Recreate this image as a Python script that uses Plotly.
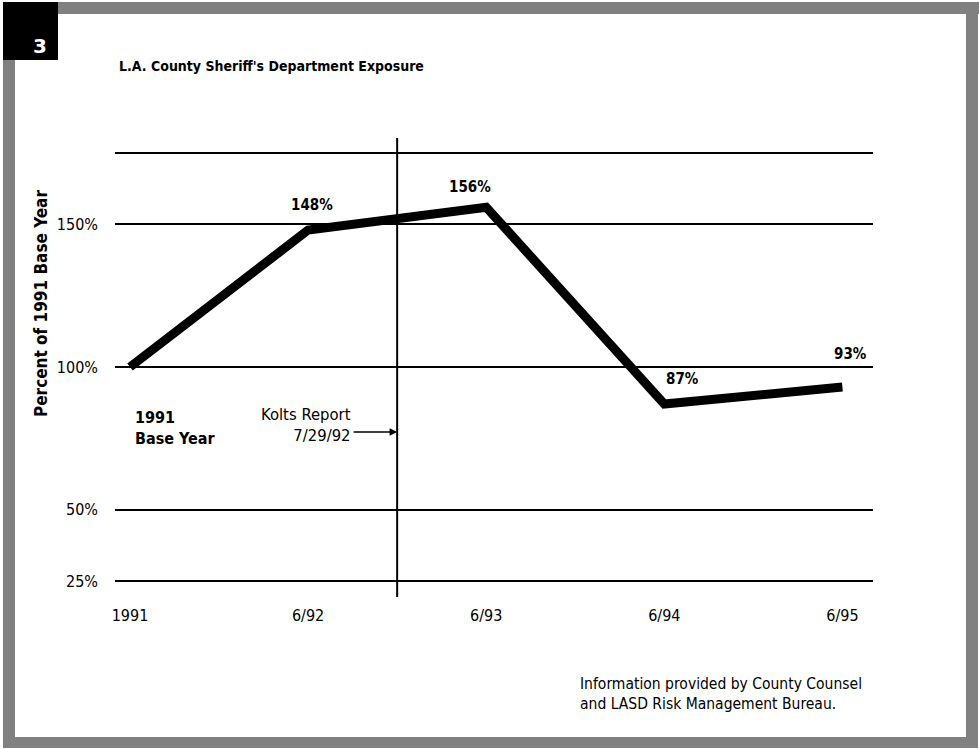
import plotly.graph_objects as go

# ---- data ----
periods = ["1991", "6/92", "6/93", "6/94", "6/95"]
pct_of_base = [100, 148, 156, 87, 93]
value_labels = ["", "148%", "156%", "87%", "93%"]
y_ticks = [25, 50, 100, 150, 175]
y_tick_text = ["25%", "50%", "100%", "150%", ""]
kolts_pos = 1.5  # between 6/92 and 6/93

W, H = 979, 749
L, R, T, B = 115, 873, 150, 584
NARROW = "Liberation Sans Narrow, DejaVu Sans Condensed, Arial Narrow, sans-serif"

def px(x):
    return (x - L) / (R - L)

def py(y):
    return (B - y) / (B - T)

xs = list(range(len(periods)))

fig = go.Figure()
fig.add_trace(go.Scatter(
    x=xs, y=pct_of_base, mode="lines",
    line=dict(color="black", width=9),
    hoverinfo="skip", showlegend=False,
))

shapes = []
grey = "#808080"
# halftone frame
shapes.append(dict(type="rect", xref="paper", yref="paper", x0=px(58), x1=px(979), y0=py(2), y1=py(14), fillcolor=grey, line=dict(width=0), layer="below"))
shapes.append(dict(type="rect", xref="paper", yref="paper", x0=px(3), x1=px(15), y0=py(60), y1=py(748), fillcolor=grey, line=dict(width=0), layer="below"))
shapes.append(dict(type="rect", xref="paper", yref="paper", x0=px(966), x1=px(978), y0=py(2), y1=py(748), fillcolor=grey, line=dict(width=0), layer="below"))
shapes.append(dict(type="rect", xref="paper", yref="paper", x0=px(3), x1=px(978), y0=py(737), y1=py(748), fillcolor=grey, line=dict(width=0), layer="below"))
# black number box
shapes.append(dict(type="rect", xref="paper", yref="paper", x0=px(3), x1=px(58), y0=py(2), y1=py(60), fillcolor="black", line=dict(width=0)))
# Kolts report vertical line
shapes.append(dict(type="line", xref="x", yref="paper", x0=kolts_pos, x1=kolts_pos, y0=py(138), y1=py(597), line=dict(color="black", width=2)))

annotations = []
annotations.append(dict(xref="paper", yref="paper", x=px(31), y=py(32), text="<b>3</b>", showarrow=False,
                        font=dict(family="DejaVu Sans", size=20, color="white")))
annotations.append(dict(xref="paper", yref="paper", x=px(117), y=py(66), xanchor="left", yanchor="middle",
                        text="<b>L.A. County Sheriff's Department Exposure</b>", showarrow=False,
                        font=dict(family=NARROW, size=14, color="black")))
annotations.append(dict(xref="paper", yref="paper", x=px(29), y=py(304), textangle=-90,
                        text="<b>Percent of 1991 Base Year</b>", showarrow=False,
                        font=dict(family=NARROW, size=17, color="black")))
# value labels
shifts = [(0, 0), (4, 25), (-16, 20), (18, 25), (8, 33)]
for i, (lab, (dx, dy)) in enumerate(zip(value_labels, shifts)):
    if lab:
        annotations.append(dict(x=xs[i], y=pct_of_base[i], text="<b>" + lab + "</b>", showarrow=False,
                                xshift=dx, yshift=dy, font=dict(family=NARROW, size=15, color="black")))
annotations.append(dict(xref="paper", yref="paper", x=px(133), y=py(428), xanchor="left", yanchor="middle", align="left",
                        text="<b>1991<br>Base Year</b>", showarrow=False,
                        font=dict(family=NARROW, size=16, color="black")))
annotations.append(dict(xref="paper", yref="paper", x=px(353), y=py(425), xanchor="right", yanchor="middle", align="right",
                        text="Kolts Report<br>7/29/92", showarrow=False,
                        font=dict(family=NARROW, size=16.5, color="black")))
annotations.append(dict(x=kolts_pos, y=25 + (581 - 432) / 2.8533, xref="x", yref="y", text="", showarrow=True,
                        arrowhead=2, arrowsize=1, arrowwidth=1.5, arrowcolor="black", ax=-45, ay=0, standoff=0))
annotations.append(dict(xref="paper", yref="paper", x=px(578), y=py(694), xanchor="left", yanchor="middle", align="left",
                        text="Information provided by County Counsel<br>and LASD Risk Management Bureau.", showarrow=False,
                        font=dict(family=NARROW, size=15.5, color="black")))

fig.update_layout(
    width=W, height=H,
    margin=dict(l=L, r=W - R, t=T, b=H - B),
    paper_bgcolor="white", plot_bgcolor="white",
    shapes=shapes, annotations=annotations,
    showlegend=False,
    xaxis=dict(range=[(L - 130) / 178.1, (R - 130) / 178.1], tickvals=xs, ticktext=periods,
               showgrid=False, zeroline=False, showline=False, ticks="",
               ticklabelstandoff=20,
               tickfont=dict(family=NARROW, size=16, color="black")),
    yaxis=dict(range=[23.95, 176.05], tickvals=y_ticks, ticktext=y_tick_text,
               showgrid=True, gridcolor="black", gridwidth=2, zeroline=False, showline=False, ticks="",
               ticklabelstandoff=16,
               tickfont=dict(family=NARROW, size=16, color="black")),
)

fig.write_html("out.html")
